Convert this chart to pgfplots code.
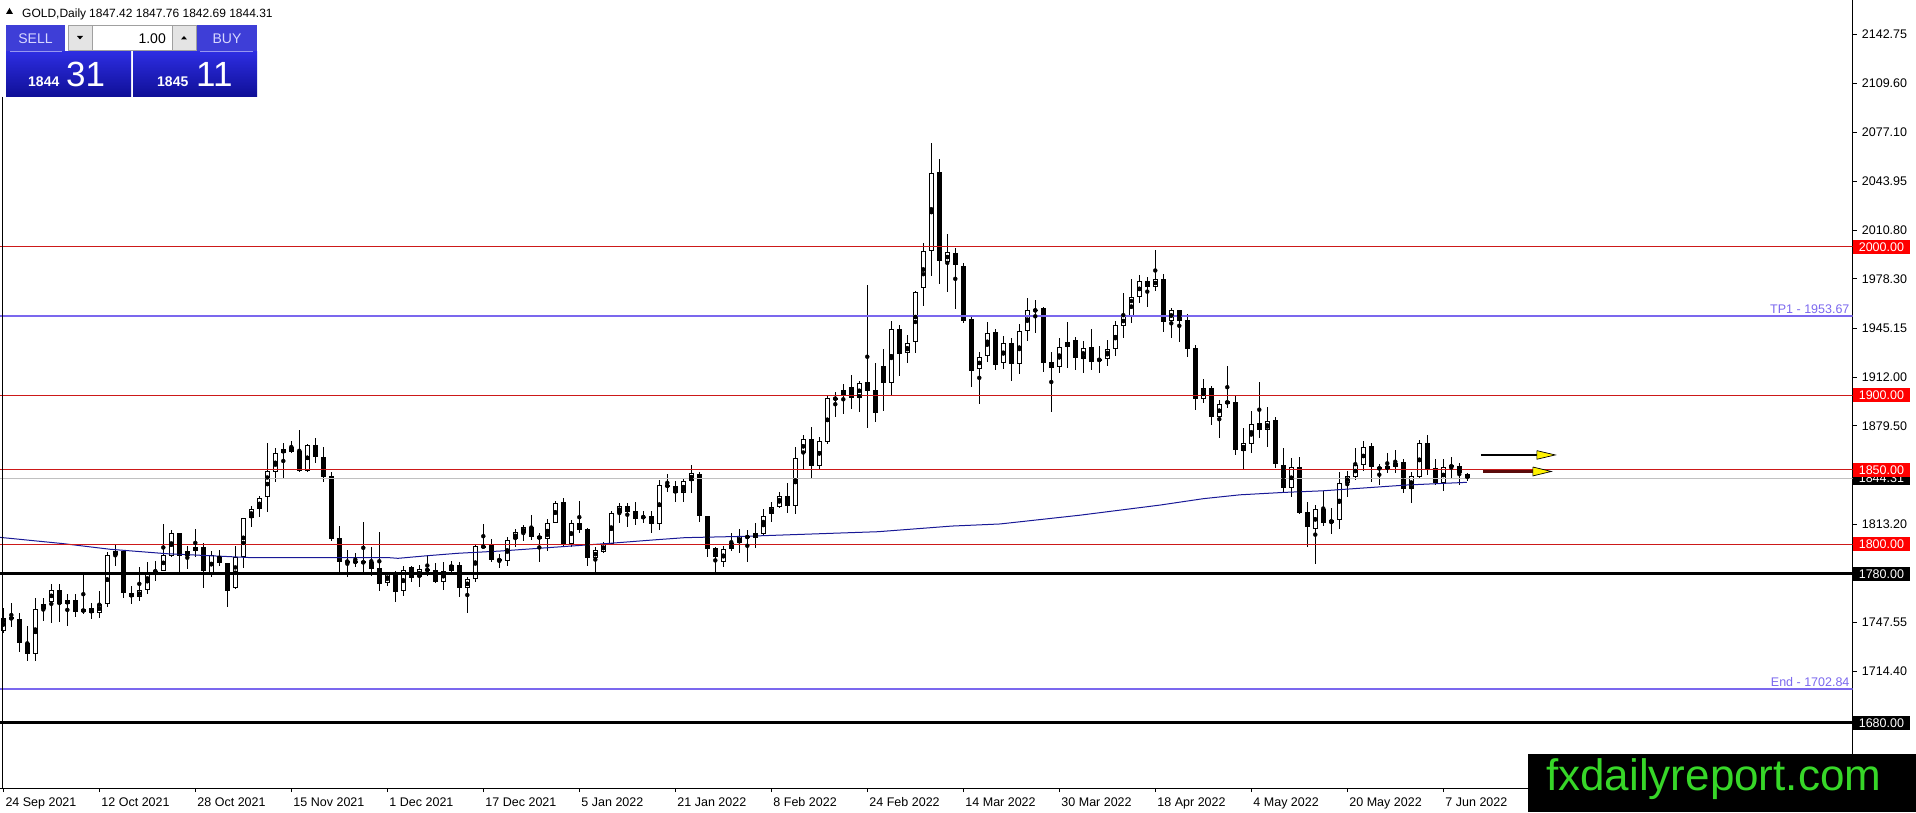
\documentclass[border=0pt]{standalone}
\usepackage{fontspec}
\setmainfont{Liberation Sans}
\usepackage{pgfplots}
\pgfplotsset{compat=1.18}
\usepackage{pgfplotstable}

\definecolor{lnred}{RGB}{205,25,25}
\definecolor{boxred}{RGB}{255,0,0}
\definecolor{tpblue}{RGB}{123,104,238}
\definecolor{maclr}{RGB}{25,25,150}
\definecolor{cpgray}{RGB}{192,192,192}
\definecolor{logogreen}{RGB}{55,215,40}
\definecolor{arrowred}{RGB}{90,10,10}
\definecolor{btnhead}{RGB}{62,62,215}
\definecolor{btntop}{RGB}{45,45,225}
\definecolor{btnbot}{RGB}{15,15,150}
\definecolor{btntext}{RGB}{215,215,255}
\definecolor{sepline}{RGB}{150,150,240}
\definecolor{spingray}{RGB}{228,228,228}
\definecolor{spinborder}{RGB}{160,160,160}

\newcommand\tickfont{\fontsize{12.5}{14}\selectfont}
\newcommand\hdrfont{\fontsize{12}{14}\selectfont}

\pgfplotstableread{
i O H L C
0 1741.9 1756.9 1740.1 1750.2
1 1750.8 1760.7 1744.1 1749.5
2 1749.7 1754.0 1727.8 1733.4
3 1733.4 1745.0 1721.7 1726.0
4 1726.0 1763.6 1721.7 1756.2
5 1756.2 1763.6 1748.6 1759.8
6 1761.4 1773.0 1746.8 1769.2
7 1769.2 1773.0 1747.9 1759.6
8 1759.6 1766.5 1745.2 1762.3
9 1762.3 1766.5 1751.3 1754.6
10 1754.6 1780.0 1752.8 1756.2
11 1756.9 1760.2 1749.5 1753.5
12 1753.5 1768.5 1750.2 1759.8
13 1759.6 1795.0 1757.6 1792.7
14 1792.7 1799.5 1785.6 1795.4
15 1795.4 1796.1 1764.1 1767.0
16 1767.0 1772.1 1759.6 1764.3
17 1764.3 1784.9 1761.8 1769.2
18 1769.2 1787.8 1766.3 1781.1
19 1780.9 1788.5 1775.3 1782.2
20 1782.2 1813.6 1782.0 1792.7
21 1792.1 1809.5 1791.6 1807.3
22 1807.3 1807.5 1781.5 1792.1
23 1792.1 1798.8 1783.1 1795.7
24 1795.7 1810.2 1791.6 1797.9
25 1797.9 1800.6 1770.8 1782.2
26 1780.4 1795.4 1778.2 1792.7
27 1792.1 1796.1 1785.6 1787.1
28 1787.1 1787.3 1758.0 1768.8
29 1770.3 1798.8 1770.0 1791.2
30 1791.2 1817.6 1784.2 1817.4
31 1817.8 1825.7 1811.8 1823.4
32 1823.4 1832.4 1818.5 1830.8
33 1831.5 1867.8 1821.9 1849.4
34 1848.3 1864.9 1842.0 1861.1
35 1861.1 1867.8 1844.1 1863.8
36 1865.1 1869.6 1861.1 1862.2
37 1862.7 1876.8 1848.8 1849.4
38 1849.4 1867.4 1848.8 1866.7
39 1866.7 1871.2 1854.4 1858.4
40 1858.4 1865.1 1842.0 1845.4
41 1845.9 1848.8 1802.4 1803.5
42 1804.0 1812.2 1780.4 1788.3
43 1788.5 1796.1 1777.7 1788.1
44 1788.0 1794.3 1784.9 1788.2
45 1788.5 1815.2 1780.0 1787.1
46 1787.8 1798.3 1778.8 1783.3
47 1783.8 1808.2 1768.8 1773.2
48 1774.1 1781.5 1771.9 1780.9
49 1781.1 1782.0 1761.4 1768.1
50 1768.5 1785.4 1765.4 1782.7
51 1784.5 1785.6 1774.8 1777.5
52 1777.7 1785.8 1771.5 1783.1
53 1782.5 1792.7 1778.6 1782.9
54 1782.7 1787.1 1773.7 1774.8
55 1774.8 1788.3 1769.2 1782.2
56 1782.2 1788.7 1781.5 1785.8
57 1785.8 1788.3 1764.7 1770.3
58 1770.3 1778.2 1753.5 1776.4
59 1776.4 1799.2 1774.8 1798.8
60 1798.8 1813.6 1797.2 1797.9
61 1799.5 1803.7 1788.3 1789.4
62 1790.1 1793.4 1784.2 1788.7
63 1788.7 1804.6 1785.3 1802.8
64 1803.3 1810.0 1798.3 1808.0
65 1807.3 1812.9 1802.1 1811.3
66 1811.3 1819.6 1802.8 1805.1
67 1805.3 1807.3 1788.3 1803.7
68 1803.7 1816.9 1795.6 1814.0
69 1814.5 1829.0 1814.0 1827.9
70 1828.4 1830.8 1798.8 1799.9
71 1800.4 1816.3 1797.9 1814.0
72 1814.0 1829.0 1807.3 1809.6
73 1810.2 1810.6 1785.3 1790.5
74 1790.5 1797.9 1781.5 1796.1
75 1794.7 1801.7 1793.9 1800.1
76 1800.1 1822.5 1800.0 1820.7
77 1820.7 1827.9 1814.0 1825.7
78 1825.7 1827.9 1811.8 1821.9
79 1822.3 1828.4 1812.9 1817.2
80 1818.5 1822.5 1814.0 1817.8
81 1819.0 1822.5 1807.3 1813.4
82 1813.4 1843.2 1809.6 1839.8
83 1839.8 1847.2 1835.3 1838.7
84 1839.1 1842.7 1828.1 1834.2
85 1834.2 1844.3 1828.6 1842.5
86 1842.5 1853.2 1834.2 1847.6
87 1847.2 1848.8 1814.7 1819.0
88 1819.0 1819.2 1791.2 1796.5
89 1797.6 1797.8 1780.4 1791.2
90 1788.0 1798.8 1784.9 1796.5
91 1796.5 1807.3 1795.4 1800.6
92 1800.6 1810.0 1793.9 1805.7
93 1805.7 1809.6 1788.3 1804.0
94 1804.4 1814.0 1797.2 1807.3
95 1806.6 1823.5 1806.4 1819.2
96 1820.3 1828.6 1815.2 1825.2
97 1825.2 1835.3 1824.1 1832.4
98 1832.4 1840.9 1820.8 1825.9
99 1825.9 1865.6 1820.3 1857.7
100 1861.1 1873.4 1849.9 1870.5
101 1870.5 1879.0 1843.6 1852.8
102 1852.8 1872.3 1849.9 1869.4
103 1868.9 1900.3 1867.1 1898.1
104 1898.3 1902.5 1885.7 1897.4
105 1900.3 1907.5 1887.3 1903.7
106 1905.5 1913.8 1890.7 1898.1
107 1898.1 1910.0 1889.1 1908.2
108 1908.8 1974.2 1877.9 1903.2
109 1903.7 1921.6 1882.4 1888.4
110 1919.8 1931.0 1889.8 1908.2
111 1908.2 1950.1 1900.3 1944.5
112 1944.5 1947.4 1913.3 1927.7
113 1928.3 1940.6 1921.6 1935.0
114 1935.7 1970.0 1928.8 1969.8
115 1972.0 2002.7 1960.4 1997.3
116 1997.3 2069.9 1980.5 2049.3
117 2050.0 2059.0 1974.9 1990.6
118 1989.9 2008.5 1969.8 1996.2
119 1995.5 1998.9 1957.9 1987.7
120 1987.0 1989.3 1948.9 1950.3
121 1951.4 1954.1 1905.9 1916.7
122 1917.6 1929.4 1894.3 1926.1
123 1926.7 1949.6 1922.7 1941.8
124 1942.9 1944.7 1917.1 1920.5
125 1921.6 1940.0 1917.6 1935.0
126 1935.0 1938.9 1909.9 1920.9
127 1920.9 1948.0 1914.4 1943.3
128 1943.3 1965.3 1936.8 1957.4
129 1957.0 1964.2 1942.2 1957.4
130 1958.6 1959.3 1916.0 1922.0
131 1922.3 1929.0 1889.1 1918.7
132 1918.9 1938.4 1915.3 1932.4
133 1932.4 1949.1 1918.7 1936.1
134 1937.3 1939.5 1917.1 1925.0
135 1924.3 1936.6 1914.9 1932.1
136 1932.4 1944.5 1917.1 1922.7
137 1923.2 1933.2 1914.9 1924.5
138 1924.3 1937.3 1920.0 1931.2
139 1931.0 1950.3 1926.7 1947.4
140 1946.7 1969.1 1938.9 1953.4
141 1953.4 1978.1 1948.9 1966.0
142 1966.0 1981.0 1962.4 1977.2
143 1977.2 1979.9 1959.7 1972.7
144 1973.1 1997.8 1970.2 1978.1
145 1978.1 1981.4 1942.9 1949.6
146 1950.1 1958.6 1938.4 1957.4
147 1957.4 1957.6 1936.1 1950.3
148 1950.7 1954.5 1926.1 1931.0
149 1932.1 1933.9 1890.2 1897.4
150 1897.4 1910.8 1895.2 1904.8
151 1904.8 1906.4 1880.1 1885.3
152 1885.3 1896.9 1871.2 1894.2
153 1894.2 1919.8 1891.3 1896.5
154 1895.4 1899.6 1860.0 1863.3
155 1862.7 1877.9 1849.9 1867.8
156 1867.1 1889.5 1861.1 1880.6
157 1881.7 1909.3 1871.6 1876.8
158 1876.8 1892.5 1865.6 1882.8
159 1883.5 1885.7 1851.0 1853.7
160 1853.2 1864.4 1835.3 1837.6
161 1837.6 1857.7 1831.5 1851.7
162 1851.7 1858.4 1820.6 1820.8
163 1821.4 1828.1 1798.3 1811.3
164 1810.0 1826.4 1786.5 1823.4
165 1823.4 1835.8 1812.2 1814.0
166 1814.0 1824.1 1806.8 1816.0
167 1816.0 1848.3 1810.0 1841.4
168 1840.9 1849.2 1831.5 1845.9
169 1845.4 1864.4 1843.2 1853.0
170 1853.0 1869.4 1849.2 1865.6
171 1866.0 1868.3 1842.0 1852.1
172 1852.1 1853.7 1839.8 1849.9
173 1850.3 1861.1 1847.6 1852.8
174 1852.1 1863.3 1847.6 1854.4
175 1855.3 1857.0 1834.2 1836.9
176 1836.9 1848.8 1827.9 1845.9
177 1845.4 1870.1 1843.6 1867.8
178 1867.8 1873.4 1846.5 1849.9
179 1851.0 1857.0 1839.8 1841.4
180 1841.4 1857.0 1836.0 1851.7
181 1851.7 1858.8 1844.3 1853.0
182 1852.6 1854.4 1839.8 1847.6
183 1847.42 1847.76 1842.69 1844.31
}\candles

\pgfplotstableread{
i ma
-0.41 1804.6
7.46 1800.4
13.34 1796.6
20.46 1793.6
30.84 1791.0
35.46 1791.0
48.09 1791.0
49.34 1790.5
53.09 1792.3
56.84 1793.9
62.09 1795.4
75.84 1800.6
81.09 1802.8
85.21 1804.4
92.71 1805.3
109.34 1808.4
118.59 1812.2
124.59 1813.6
134.59 1819.5
144.59 1826.3
150.00 1830.6
154.59 1833.2
160.00 1834.8
164.96 1835.9
175.46 1839.8
182.96 1841.6
}\matable

\begin{document}
\begin{tikzpicture}
\path[use as bounding box] (0pt,0pt) rectangle (1916pt,812pt);
\begin{axis}[
  at={(0pt,24pt)}, anchor=south west, scale only axis,
  width=1852.7pt, height=788pt,
  xmin=-0.4125, xmax=231.18, ymin=1636.1, ymax=2165.85,
  enlargelimits=false,
  axis x line*=bottom, axis y line*=right,
  axis line style={-, black, line width=1pt},
  xtick={0,12,...,180},
  xticklabels={24 Sep 2021,12 Oct 2021,28 Oct 2021,15 Nov 2021,1 Dec 2021,17 Dec 2021,5 Jan 2022,21 Jan 2022,8 Feb 2022,24 Feb 2022,14 Mar 2022,30 Mar 2022,18 Apr 2022,4 May 2022,20 May 2022,7 Jun 2022},
  ytick={2142.75,2109.60,2077.10,2043.95,2010.80,1978.30,1945.15,1912.00,1879.50,1846.35,1813.20,1780.05,1747.55,1714.40,1681.25},
  yticklabels={2142.75,2109.60,2077.10,2043.95,2010.80,1978.30,1945.15,1912.00,1879.50,1846.35,1813.20,1780.05,1747.55,1714.40,1681.25},
  tick align=outside, major tick length=4pt,
  tick style={black, line width=1pt},
  xticklabel style={anchor=base west, inner sep=0pt, xshift=2pt, yshift=-14pt, font=\tickfont},
  yticklabel style={anchor=west, inner sep=0pt, xshift=5pt, font=\tickfont},
]
% wicks
\addplot[only marks, mark=none, error bars/.cd, y dir=both, y explicit, error mark=none,
  error bar style={draw=black, line width=1pt}]
  table[x=i, y expr={(\thisrow{H}+\thisrow{L})/2}, y error expr={(\thisrow{H}-\thisrow{L})/2}] {\candles};
% bodies
\addplot[only marks, mark=none, error bars/.cd, y dir=both, y explicit, error mark=none,
  error bar style={draw=black, line width=5pt}]
  table[x=i, y expr={(\thisrow{O}+\thisrow{C})/2}, y error expr={max(abs(\thisrow{C}-\thisrow{O})/2,0.34)}] {\candles};
% white interior of rising candles
\addplot[only marks, mark=none, error bars/.cd, y dir=both, y explicit, error mark=none,
  error bar style={draw=white, line width=3pt}]
  table[x=i, y expr={(\thisrow{O}+\thisrow{C})/2}, y error expr={max((\thisrow{C}-\thisrow{O})/2-0.672,0)}] {\candles};
% moving average
\addplot[maclr, line width=1pt, mark=none] table[x=i, y=ma] {\matable};
% horizontal levels
\addplot[cpgray, line width=1pt, mark=none] coordinates {(-0.5,1844.31) (232,1844.31)};
\addplot[lnred, line width=1pt, mark=none] coordinates {(-0.5,2000) (232,2000)};
\addplot[lnred, line width=1pt, mark=none] coordinates {(-0.5,1900) (232,1900)};
\addplot[lnred, line width=1pt, mark=none] coordinates {(-0.5,1850) (232,1850)};
\addplot[lnred, line width=1pt, mark=none] coordinates {(-0.5,1800) (232,1800)};
\addplot[tpblue, line width=2pt, mark=none] coordinates {(-0.5,1953.67) (232,1953.67)};
\addplot[tpblue, line width=2pt, mark=none] coordinates {(-0.5,1702.84) (232,1702.84)};
\addplot[black, line width=3pt, mark=none] coordinates {(-0.5,1780) (232,1780)};
\addplot[black, line width=3pt, mark=none] coordinates {(-0.5,1680) (232,1680)};
% arrows
\addplot[black, line width=2pt, mark=none] coordinates {(184.7,1860) (191.8,1860)};
\addplot[draw=black, fill=yellow, line width=0.7pt, mark=none] coordinates {(191.7,1862.9) (194.0,1860) (191.7,1857.1) (191.7,1862.9)};
\addplot[arrowred, line width=3pt, mark=none] coordinates {(185.0,1848.8) (191.3,1848.8)};
\addplot[draw=black, fill=yellow, line width=0.7pt, mark=none] coordinates {(191.2,1851.9) (193.5,1848.9) (191.2,1845.9) (191.2,1851.9)};
% texts of the target lines
\node[anchor=base east, inner sep=0pt, text=tpblue, font=\tickfont] at (axis cs:230.8,1955.4) {TP1 - 1953.67};
\node[anchor=base east, inner sep=0pt, text=tpblue, font=\tickfont] at (axis cs:230.8,1704.6) {End - 1702.84};
\coordinate (b2000) at (axis cs:231.18,2000);
\coordinate (b1900) at (axis cs:231.18,1900);
\coordinate (b1850) at (axis cs:231.18,1850);
\coordinate (b1844) at (axis cs:231.18,1844.31);
\coordinate (b1800) at (axis cs:231.18,1800);
\coordinate (b1780) at (axis cs:231.18,1780);
\coordinate (b1680) at (axis cs:231.18,1680);
\end{axis}

\begin{scope}[x=1pt, y=1pt, every node/.style={inner sep=0pt}]
\tikzset{boxlab/.style={anchor=west, minimum width=57pt, minimum height=14pt, text=white, font=\tickfont}}
\node[boxlab, fill=black] at (b1844) {1844.31};
\node[boxlab, fill=boxred] at (b2000) {2000.00};
\node[boxlab, fill=boxred] at (b1900) {1900.00};
\node[boxlab, fill=boxred] at (b1850) {1850.00};
\node[boxlab, fill=boxred] at (b1800) {1800.00};
\node[boxlab, fill=black] at (b1780) {1780.00};
\node[boxlab, fill=black] at (b1680) {1680.00};
% left border line
\draw[black, line width=1.5pt] (2.7,715) -- (2.7,24);
% header
\fill[black] (6,798) -- (13,798) -- (9.5,804) -- cycle;
\node[anchor=base west, font=\hdrfont] at (22,794) {GOLD,Daily};
\node[anchor=base west, font=\hdrfont] at (89,794) {1847.42 1847.76 1842.69 1844.31};
% one click panel
\fill[btnhead] (6,760) rectangle (65,787);
\fill[btnhead] (197,760) rectangle (257,787);
\shade[top color=btntop, bottom color=btnbot] (6,715) rectangle (131,760);
\shade[top color=btntop, bottom color=btnbot] (133,715) rectangle (257,760);
\draw[sepline, line width=1pt] (10,760.5) -- (62,760.5);
\draw[sepline, line width=1pt] (200,760.5) -- (253,760.5);
\node[anchor=base, text=btntext, font=\fontsize{14}{14}\selectfont] at (35.5,768) {SELL};
\node[anchor=base, text=btntext, font=\fontsize{14}{14}\selectfont] at (227,768) {BUY};
\draw[spinborder, fill=white] (68,762) rectangle (196,787);
\draw[spinborder, fill=spingray] (68,762) rectangle (92,787);
\draw[spinborder, fill=spingray] (172,762) rectangle (196,787);
\fill[black] (77,776) -- (83,776) -- (80,772.5) -- cycle;
\fill[black] (181,772.5) -- (187,772.5) -- (184,776) -- cycle;
\node[anchor=base east, font=\fontsize{14}{14}\selectfont] at (166,768) {1.00};
\node[anchor=base west, text=white, font=\bfseries\fontsize{14}{14}\selectfont] at (28,725) {1844};
\node[anchor=base west, text=white, font=\fontsize{35}{35}\selectfont] at (66,725) {31};
\node[anchor=base west, text=white, font=\bfseries\fontsize{14}{14}\selectfont] at (157,725) {1845};
\node[anchor=base west, text=white, font=\fontsize{35}{35}\selectfont] at (196,725) {11};
% logo
\fill[black] (1528,0) rectangle (1916,58);
\node[anchor=base west, text=logogreen, font=\fontsize{44}{44}\selectfont] at (1546,22) {fxdailyreport.com};
\end{scope}
\end{tikzpicture}
\end{document}
